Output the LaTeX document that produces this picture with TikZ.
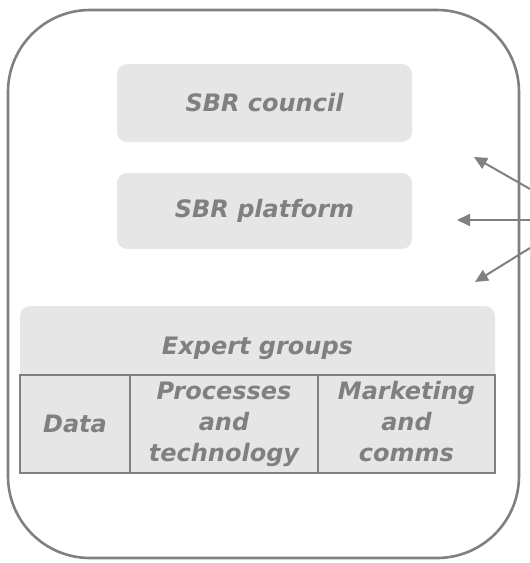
\documentclass[tikz,border=0pt]{standalone}
\usepackage{fontspec}
\setmainfont{DejaVu Sans}
\usepackage{tikz}
\usetikzlibrary{arrows.meta,positioning}
\definecolor{sbrgray}{HTML}{808080}
\definecolor{sbrfill}{HTML}{E6E6E6}

\begin{document}
\begin{tikzpicture}[x=1pt, y=-1pt,
    font=\bfseries\itshape\fontsize{24}{31}\selectfont,
    frame/.style={draw=sbrgray, line width=2.6pt, rounded corners=82pt,
      minimum width=511pt, minimum height=548pt},
    body/.style={fill=sbrfill, text=sbrgray, rounded corners=10pt,
      minimum width=295pt, inner sep=0pt, align=center},
    cell/.style={draw=sbrgray, line width=2.4pt, fill=sbrfill, text=sbrgray,
      minimum height=98pt, inner sep=0pt, align=center},
    flow/.style={-{Triangle[length=13pt, width=12pt]}, line width=2pt,
      color=sbrgray}
  ]
    \useasboundingbox (0,0) rectangle (530,563);

    \node[frame] (org) at (263.5,284) {};

    \node[body, minimum height=78pt] (council) at (264.5,103) {SBR council};
    \node[body, minimum height=76pt] (platform) at (264.5,211) {SBR platform};

    % expert groups: header first, the cells cover its lower corners
    \node[body, minimum width=475pt, minimum height=80pt, text depth=0pt]
      (experts) at (257.5,346) {Expert groups};
    \node[cell, minimum width=110pt] (data) at (75,424) {Data};
    \node[cell, minimum width=188pt] (proc) at (224,424)
      {Processes\\and\\technology};
    \node[cell, minimum width=177pt] (comms) at (406.5,424)
      {Marketing\\and\\comms\vphantom{y}};

    % links coming in from the right
    \coordinate (in1) at (530,189);
    \coordinate (in2) at (530,220);
    \coordinate (in3) at (530,248);
    \coordinate (tip1) at (474,157);
    \coordinate (tip2) at (457,220);
    \coordinate (tip3) at (475,282);
    \draw[flow] (in1) -- (tip1);
    \draw[flow] (in2) -- (tip2);
    \draw[flow] (in3) -- (tip3);
\end{tikzpicture}
\end{document}
